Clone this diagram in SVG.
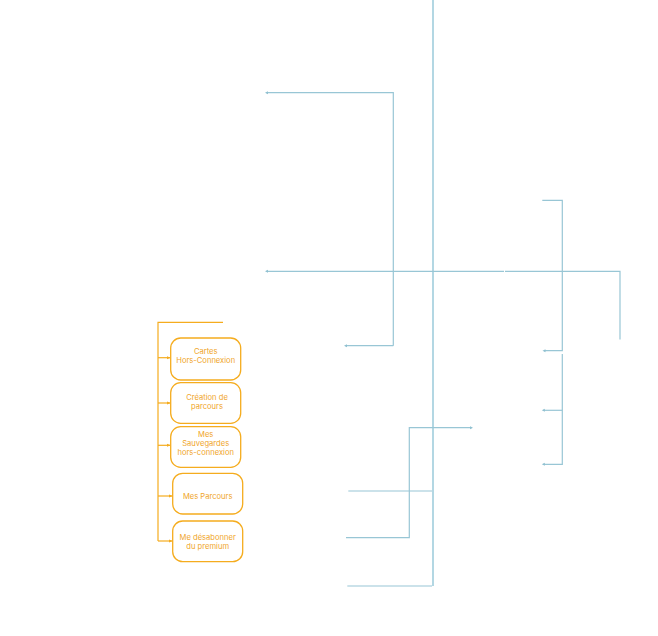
<svg xmlns="http://www.w3.org/2000/svg" width="658" height="636" viewBox="0 0 658 636">
<defs>
<marker id="ob" markerWidth="4" markerHeight="4" refX="3" refY="2" orient="auto" markerUnits="userSpaceOnUse"><path d="M0,0.5 L3.5,2 L0,3.5 z" fill="#F5AC1E"/></marker>
<marker id="bd" markerWidth="4" markerHeight="4" refX="2" refY="2" orient="auto" markerUnits="userSpaceOnUse"><path d="M0.5,0.5 L3.5,2 L0.5,3.5 z" fill="#8FC0D0"/></marker>
</defs>
<style>
.box{fill:#fff;stroke:#F5AC1E;stroke-width:1.3}
.t{font-family:Inter,"Open Sans",sans-serif;font-size:7.6px;fill:#F0A52A;text-anchor:middle}
.ol{fill:none;stroke:#F5AC1E;stroke-width:1.2}
.bl{fill:none;stroke:#98C6D5;stroke-width:1.2}
.main{fill:none;stroke:#B3D7E3;stroke-width:2}
</style>
<g id="connectors">
<path class="ol" d="M223,322.3 H158 V541"/>
<path class="ol" d="M158,357.7 H170" marker-end="url(#ob)"/>
<path class="ol" d="M158,403 H170" marker-end="url(#ob)"/>
<path class="ol" d="M158,445.3 H170" marker-end="url(#ob)"/>
<path class="ol" d="M158,496 H172" marker-end="url(#ob)"/>
<path class="ol" d="M158,541 H172" marker-end="url(#ob)"/>
<path class="main" d="M433,0 V586"/>
<path class="bl" d="M393.3,345.7 V92.7 H266.5" marker-end="url(#bd)"/>
<path class="bl" d="M393.3,345.7 H345.5" marker-end="url(#bd)"/>
<path class="bl" d="M504,271.3 H266.5" marker-end="url(#bd)"/>
<path class="bl" d="M505,271.3 H620 V339.5"/>
<path class="bl" d="M542.3,200.3 H562.3 V350.7 H544" marker-end="url(#bd)"/>
<path class="bl" d="M562.3,354 V464.3 H543.3" marker-end="url(#bd)"/>
<path class="bl" d="M562.3,410.3 H543.3" marker-end="url(#bd)"/>
<path class="bl" d="M346,537.7 H409.3 V427.7 H471.5" marker-end="url(#bd)"/>
<path class="bl" d="M348.3,491 H432"/>
<path class="bl" d="M347.3,586 H432"/>
</g>
<g id="n1"><rect class="box" x="170.7" y="338" width="70" height="42" rx="10"/><text class="t" x="205.7" y="353.5">Cartes</text><text class="t" x="205.7" y="362.5">Hors-Connexion</text></g>
<g id="n2"><rect class="box" x="170.7" y="382.7" width="70" height="40.6" rx="10"/><text class="t" x="207" y="399.5">Création de</text><text class="t" x="207" y="408.5">parcours</text></g>
<g id="n3"><rect class="box" x="170.7" y="426.7" width="70" height="40.6" rx="10"/><text class="t" x="205.7" y="436.5">Mes</text><text class="t" x="205.7" y="445.5">Sauvegardes</text><text class="t" x="205.7" y="454.5">hors-connexion</text></g>
<g id="n4"><rect class="box" x="172.7" y="473.3" width="70" height="40.7" rx="10"/><text class="t" x="207.7" y="498.5">Mes Parcours</text></g>
<g id="n5"><rect class="box" x="172.7" y="521" width="70" height="40.7" rx="10"/><text class="t" x="207.7" y="539.5">Me désabonner</text><text class="t" x="207.7" y="548.5">du premium</text></g>
</svg>
